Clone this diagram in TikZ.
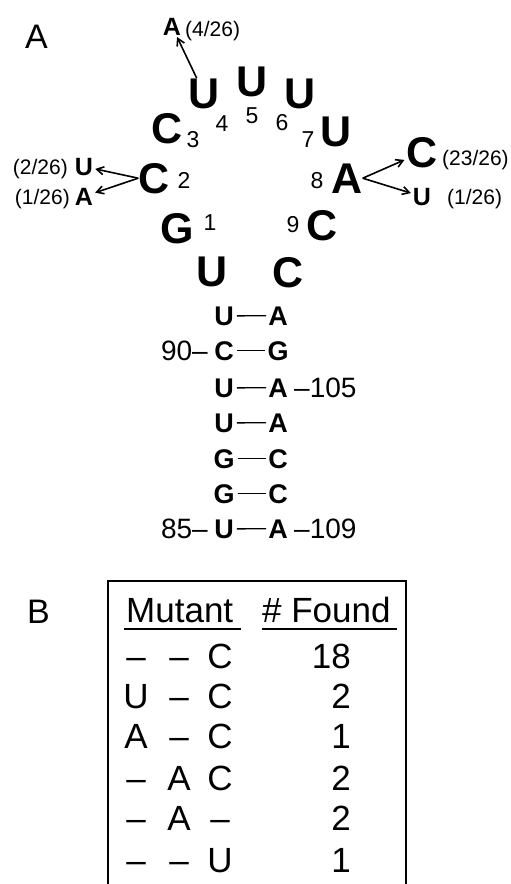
\documentclass[tikz,border=0pt]{standalone}
\usepackage{fontspec}
\setmainfont{Liberation Sans}
\usetikzlibrary{arrows.meta}
\begin{document}
\begin{tikzpicture}[x=1pt,y=-1pt,
  big/.style={font=\bfseries\fontsize{43}{43}\selectfont, inner sep=0pt, anchor=base},
  num/.style={font=\fontsize{23}{23}\selectfont, inner sep=0pt, anchor=base},
  mutl/.style={font=\bfseries\fontsize{25}{25}\selectfont, inner sep=0pt, anchor=base},
  frac/.style={font=\fontsize{21}{21}\selectfont, inner sep=0pt},
  stem/.style={font=\bfseries\fontsize{27}{27}\selectfont, inner sep=0pt, anchor=base},
  posl/.style={font=\fontsize{28}{28}\selectfont, inner sep=0pt},
  panel/.style={font=\fontsize{34}{34}\selectfont, inner sep=0pt, anchor=base west},
  tab/.style={font=\fontsize{35}{35}\selectfont, inner sep=0pt, anchor=base},
  arr/.style={line width=1.6pt, -{Straight Barb[length=7pt,width=8pt,line width=1.6pt]}, shorten >=2pt},
  bond/.style={line width=1.4pt, shorten <=3pt, shorten >=2pt}]
\useasboundingbox (0,0) rectangle (511,884);
\fill[white] (0,0) rectangle (511,884);

% panel labels
\node[panel] (pA) at (25,48) {A};
\node[panel] (pB) at (27,623) {B};

% loop
\node[big] (U4) at (204,108) {U};
\node[big] (U5) at (252,96) {U};
\node[big] (U6) at (300,108) {U};
\node[big] (C3) at (167,143) {C};
\node[big] (U7) at (336,146) {U};
\node[big] (C2) at (154,193) {C};
\node[big] (A8) at (347,193) {A};
\node[big] (G1) at (177,243) {G};
\node[big] (C9) at (322,240) {C};
\node[big] (Ub) at (212,286) {U};
\node[big] (Cb) at (288,287) {C};

\node[num] (n1) at (210,230) {1};
\node[num] (n2) at (184,188) {2};
\node[num] (n3) at (193,147) {3};
\node[num] (n4) at (222,131) {4};
\node[num] (n5) at (252,123) {5};
\node[num] (n6) at (282,130) {6};
\node[num] (n7) at (308,147) {7};
\node[num] (n8) at (317,188) {8};
\node[num] (n9) at (293,232) {9};

% mutations
\node[mutl] (mA4) at (172,35) {A};
\node[frac, anchor=base west] (f4) at (185,36) {(4/26)};
\node[mutl] (mU2) at (84,175) {U};
\node[frac, anchor=base east] (f2a) at (68,174) {(2/26)};
\node[mutl] (mA2) at (84,205) {A};
\node[frac, anchor=base east] (f2b) at (70,204) {(1/26)};
\node[big] (mC8) at (422,167) {C};
\node[frac, anchor=base west] (f8a) at (442,165) {(23/26)};
\node[mutl] (mU8) at (422,205) {U};
\node[frac, anchor=base west] (f8b) at (447,204) {(1/26)};

\draw[arr] (U4) -- (mA4);
\draw[arr] (C2.west) -- (mU2);
\draw[arr] (C2.west) -- (mA2);
\draw[arr] (A8.east) -- (mC8);
\draw[arr] (A8.east) -- (mU8);

% stem
\foreach \i/\l/\r/\b in {1/U/A/325, 2/C/G/360, 3/U/A/397, 4/U/A/432, 5/G/C/468, 6/G/C/503, 7/U/A/538}{
  \node[stem] (sL\i) at (224,\b) {\l};
  \node[stem] (sR\i) at (278,\b) {\r};
  \draw[bond] (sL\i) -- (sR\i);
}
\node[posl, anchor=base east] (p90) at (208,360) {90–};
\node[posl, anchor=base east] (p85) at (208,538) {85–};
\node[posl, anchor=base west] (p105) at (294,397) {–105};
\node[posl, anchor=base west] (p109) at (294,538) {–109};

% table
\draw[line width=1.6pt] (108,886) -- (108,581) -- (406,581) -- (406,886);
\node[tab, anchor=base west] (hMut) at (126,622) {Mutant};
\node[tab, anchor=base west] (hFnd) at (262,622) {\# Found};
\draw[line width=1.5pt] (124,629) -- (241,629);
\draw[line width=1.5pt] (262,629) -- (397,629);

\foreach \r/\a/\b/\c/\n/\y in {1/–/–/C/18/668, 2/U/–/C/2/708, 3/A/–/C/1/748, 4/–/A/C/2/790, 5/–/A/–/2/830, 6/–/–/U/1/872}{
  \node[tab] (ta\r) at (136,\y) {\a};
  \node[tab] (tb\r) at (179,\y) {\b};
  \node[tab] (tc\r) at (220,\y) {\c};
  \node[tab, anchor=base east] (tn\r) at (351,\y) {\n};
}
\end{tikzpicture}
\end{document}
